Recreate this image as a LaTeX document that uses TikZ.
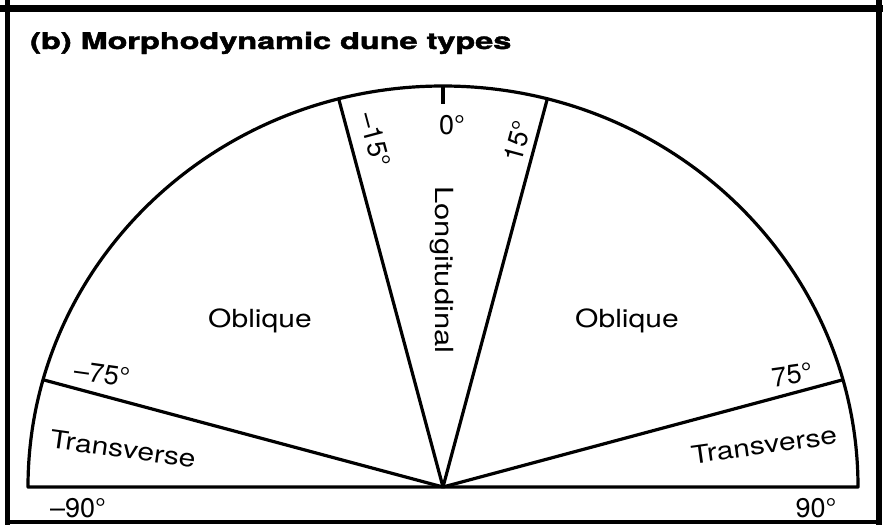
\documentclass[tikz,border=0pt]{standalone}
\usepackage{fontspec}
\setmainfont{TeX Gyre Heros}
\newfontfamily\titlefont{texgyreheros-bold.otf}[FakeBold=1.6]
\usepackage{graphicx}
\newcommand\sxtext[1]{\scalebox{1.2}[1]{#1}}
\begin{document}
\begin{tikzpicture}[x=1pt,y=-1pt,
  outline/.style={line width=3.2pt, line join=round},
  ray/.style={line width=3.2pt},
  lab/.style={inner sep=0pt, font=\fontsize{25}{25}\selectfont},
  deg/.style={inner sep=0pt, font=\fontsize{27}{27}\selectfont}]
\useasboundingbox (0,0) rectangle (883,525);
\fill[white] (0,0) rectangle (883,525);
% frame
\coordinate (FL1) at (7.5,0);   \coordinate (FL2) at (7.5,525);
\coordinate (FR1) at (879,0);   \coordinate (FR2) at (879,525);
\coordinate (FT1) at (0,8.5);   \coordinate (FT2) at (883,8.5);
\coordinate (FB1) at (7.5,522); \coordinate (FB2) at (879,522);
\draw[line width=5pt] (FL1) -- (FL2);
\draw[line width=6pt] (FR1) -- (FR2);
\draw[line width=7pt] (FT1) -- (FT2);
\draw[line width=4pt] (FB1) -- (FB2);
% semicircle
\coordinate (O) at (443,487);
\coordinate (W) at (28,487);
\coordinate (E) at (858,487);
\coordinate (A) at (44,380);
\coordinate (B) at (339,100);
\coordinate (C) at (547,100);
\coordinate (D) at (842,380);
\coordinate (T1) at (443,86);
\coordinate (T2) at (443,104);
\draw[outline] (W) -- (E) arc[start angle=0,end angle=-180,x radius=415,y radius=401] -- cycle;
\draw[ray] (O) -- (A);
\draw[ray] (O) -- (B);
\draw[ray] (O) -- (C);
\draw[ray] (O) -- (D);
\draw[line width=4pt] (T1) -- (T2);
% title
\node[anchor=base west, inner sep=0pt] (title) at (30,49)
  {\scalebox{1.41}[1]{\fontsize{23}{23}\titlefont (b) Morphodynamic dune types}};
% region labels
\node[lab, anchor=base] (obl1) at (260,327) {\sxtext{Oblique}};
\node[lab, anchor=base] (obl2) at (627,327) {\sxtext{Oblique}};
\node[lab, rotate=-90] (lon) at (442,270) {\scalebox{1.24}[1]{Longitudinal}};
\node[lab, rotate=-8] (tr1) at (123,449) {\sxtext{Transverse}};
\node[lab, rotate=8] (tr2) at (764,445) {\sxtext{Transverse}};
% angle labels
\node[deg] (m90) at (78,508) {–90°};
\node[deg] (p90) at (816,508) {90°};
\node[deg, rotate=-8] (m75) at (102,374) {–75°};
\node[deg, rotate=8] (p75) at (792,375) {75°};
\node[deg, rotate=-75] (m15) at (375,140) {–15°};
\node[deg, rotate=75] (p15) at (518,141) {15°};
\node[deg] (z) at (452,125) {0°};
\end{tikzpicture}
\end{document}
